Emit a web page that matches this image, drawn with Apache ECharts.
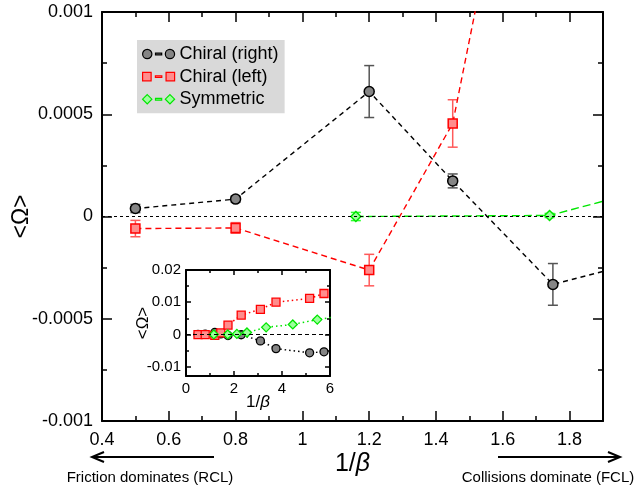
<!DOCTYPE html>
<html>
<head>
<meta charset="utf-8">
<script src="https://cdn.jsdelivr.net/npm/echarts@6/dist/echarts.min.js"></script>
<style>
  html, body { margin: 0; padding: 0; background: #fff; }
  #chart { width: 634px; height: 490px; }
</style>
</head>
<body>
<div id="chart"></div>
<script>
// data (main panel + inset share the same runs)
const invBetaRight = [0.5, 0.8, 1.2, 1.45, 1.75, 2.3, 3.1, 3.75, 5.15, 5.75];
const omegaRight   = [0.000039, 0.000085, 0.000611, 0.000174, -0.000332, -0.0001, -0.002, -0.0044, -0.0057, -0.0054];
const errRight     = [0.00002, 0.000015, 0.000127, 0.000034, 0.000102, 0.0001, 0.0002, 0.0002, 0.0002, 0.0002];

const invBetaLeft = [0.5, 0.8, 1.2, 1.45, 1.75, 2.3, 3.1, 3.75, 5.15, 5.75];
const omegaLeft   = [-0.000059, -0.000056, -0.000262, 0.000455, 0.0029, 0.006, 0.0078, 0.01, 0.0112, 0.0127];
const errLeft     = [0.00004, 0.000026, 0.000077, 0.000116, 0.0003, 0.0004, 0.0004, 0.0004, 0.0003, 0.0004];

const invBetaSym = [1.16, 1.74, 2.12, 2.54, 3.34, 4.45, 5.47, 6.5];
const omegaSym   = [0, 0.000005, 0.00017, 0.0006, 0.0022, 0.0031, 0.0046, 0.0058];
const errSym     = [0.00002, 0.00001, 0.00002, 0.0001, 0.0001, 0.0001, 0.0001, 0.0001];

const mainXTicks = [0.4, 0.6, 0.8, 1, 1.2, 1.4, 1.6, 1.8];
const mainXMinor = [0.5, 0.7, 0.9, 1.1, 1.3, 1.5, 1.7];
const mainYTicks = [-0.001, -0.0005, 0, 0.0005, 0.001];
const mainYMinor = [-0.00075, -0.00025, 0.00025, 0.00075];
const insetXTicks = [0, 2, 4, 6];
const insetXMinor = [1, 3, 5];
const insetYTicks = [-0.01, 0, 0.01, 0.02];
const insetYMinor = [-0.005, 0.005, 0.015];

const FONT = '"Liberation Sans", Arial, Helvetica, sans-serif';

const zip = (xs, ys) => xs.map((x, i) => [x, ys[i]]);

function mkAxis(gridIndex, position, min, max, ticks, tickLen, showLine, labelSize, labelMargin) {
  return {
    type: 'value', gridIndex, position, min, max,
    nameMoveOverlap: false,
    axisLine: { show: showLine, onZero: false, lineStyle: { color: '#000', width: 2 } },
    axisTick: { show: true, inside: true, length: tickLen, customValues: ticks,
                lineStyle: { color: '#000', width: 1.5 } },
    axisLabel: labelSize
      ? { show: true, customValues: ticks, fontSize: labelSize, color: '#000', fontFamily: FONT,
          margin: labelMargin, formatter: v => String(v) }
      : { show: false },
    splitLine: { show: false }
  };
}

const xAxes = [
  mkAxis(0, 'bottom', 0.4, 1.9, mainXTicks, 10, true, 18, 10),
  mkAxis(0, 'top', 0.4, 1.9, mainXTicks, 10, true),
  mkAxis(0, 'bottom', 0.4, 1.9, mainXMinor, 5, false),
  mkAxis(0, 'top', 0.4, 1.9, mainXMinor, 5, false),
  mkAxis(1, 'bottom', 0, 6, insetXTicks, 5, true, 15, 5),
  mkAxis(1, 'top', 0, 6, insetXTicks, 5, true),
  mkAxis(1, 'bottom', 0, 6, insetXMinor, 3, false),
  mkAxis(1, 'top', 0, 6, insetXMinor, 3, false)
];
const yAxes = [
  mkAxis(0, 'left', -0.001, 0.001, mainYTicks, 10, true, 18, 9),
  mkAxis(0, 'right', -0.001, 0.001, mainYTicks, 10, true),
  mkAxis(0, 'left', -0.001, 0.001, mainYMinor, 5, false),
  mkAxis(0, 'right', -0.001, 0.001, mainYMinor, 5, false),
  mkAxis(1, 'left', -0.0129, 0.02, insetYTicks, 5, true, 15, 5),
  mkAxis(1, 'right', -0.0129, 0.02, insetYTicks, 5, true),
  mkAxis(1, 'left', -0.0129, 0.02, insetYMinor, 3, false),
  mkAxis(1, 'right', -0.0129, 0.02, insetYMinor, 3, false)
];

// axis titles
Object.assign(xAxes[0], {
  name: '{n|1/}{b|β}', nameLocation: 'middle', nameGap: 31,
  nameTextStyle: { rich: { n: { fontSize: 25, fontFamily: FONT, color: '#000' },
                           b: { fontSize: 25, fontFamily: FONT, fontStyle: 'italic', color: '#000' } } }
});
Object.assign(yAxes[0], {
  name: '<Ω>', nameLocation: 'middle', nameGap: 69,
  nameTextStyle: { fontSize: 23, fontFamily: FONT, color: '#000' }
});
Object.assign(xAxes[4], {
  name: '{n|1/}{b|β}', nameLocation: 'middle', nameGap: 18,
  nameTextStyle: { rich: { n: { fontSize: 17, fontFamily: FONT, color: '#000' },
                           b: { fontSize: 17, fontFamily: FONT, fontStyle: 'italic', color: '#000' } } }
});
Object.assign(yAxes[4], {
  name: '<Ω>', nameLocation: 'middle', nameGap: 34,
  nameTextStyle: { fontSize: 17, fontFamily: FONT, color: '#000' }
});

const styles = {
  right: { fill: '#858585', stroke: '#000', line: '#000', err: '#555', dash: [5, 4] },
  left:  { fill: '#ff8c8c', stroke: '#ff0000', line: '#ff0000', err: '#ff5a5a', dash: [6, 4] },
  sym:   { fill: '#9dff9d', stroke: '#00e600', line: '#00e600', err: '#33ff33', dash: [8, 4] }
};

function mainLine(name, xs, ys, symbol, size, st) {
  return {
    type: 'line', name, xAxisIndex: 0, yAxisIndex: 0, clip: true, z: 4,
    data: zip(xs, ys), symbol, symbolSize: size, showSymbol: true,
    itemStyle: { color: st.fill, borderColor: st.stroke, borderWidth: 1.5 },
    lineStyle: { color: st.line, type: st.dash, width: 1.4 },
    emphasis: { disabled: true }
  };
}
function insetLine(name, xs, ys, symbol, size, st) {
  return {
    type: 'line', name, xAxisIndex: 4, yAxisIndex: 4, clip: true, z: 4,
    data: zip(xs, ys), symbol, symbolSize: size, showSymbol: true,
    itemStyle: { color: st.fill, borderColor: st.stroke, borderWidth: 1.3 },
    lineStyle: { color: st.line, type: [1.5, 3], width: 1.5 },
    emphasis: { disabled: true }
  };
}
function errorBars(xs, ys, es, color) {
  return {
    type: 'custom', xAxisIndex: 0, yAxisIndex: 0, clip: true, z: 3, silent: true,
    data: xs.map((x, i) => [x, ys[i] - es[i], ys[i] + es[i]]),
    encode: { x: 0, y: [1, 2] },
    renderItem: (params, api) => {
      const lo = api.coord([api.value(0), api.value(1)]);
      const hi = api.coord([api.value(0), api.value(2)]);
      const w = 5;
      const st = { stroke: color, lineWidth: 1.5 };
      return {
        type: 'group', children: [
          { type: 'line', shape: { x1: lo[0], y1: lo[1], x2: hi[0], y2: hi[1] }, style: st },
          { type: 'line', shape: { x1: lo[0] - w, y1: lo[1], x2: lo[0] + w, y2: lo[1] }, style: st },
          { type: 'line', shape: { x1: hi[0] - w, y1: hi[1], x2: hi[0] + w, y2: hi[1] }, style: st }
        ]
      };
    }
  };
}

const zeroMain = {
  type: 'line', xAxisIndex: 0, yAxisIndex: 0, data: [], z: 2,
  markLine: { silent: true, symbol: 'none', label: { show: false },
              lineStyle: { color: '#000', type: [3, 3], width: 1.2 }, data: [{ yAxis: 0 }] }
};
const zeroInset = {
  type: 'line', xAxisIndex: 4, yAxisIndex: 4, data: [], z: 2,
  markLine: { silent: true, symbol: 'none', label: { show: false },
              lineStyle: { color: '#000', type: [4, 3], width: 1.2 }, data: [{ yAxis: 0 }] }
};

// legend icons: marker - dash - marker
const iconCircle = 'path://M0.5,5a4.5,4.5 0 1,0 9,0a4.5,4.5 0 1,0 -9,0ZM13,4.2h6v1.6h-6ZM22.5,5a4.5,4.5 0 1,0 9,0a4.5,4.5 0 1,0 -9,0Z';
const iconSquare = 'path://M1,1h8v8h-8ZM13,4.2h6v1.6h-6ZM23,1h8v8h-8Z';
const iconDiamond = 'path://M5,0.5L9.5,5L5,9.5L0.5,5ZM13,4.2h6v1.6h-6ZM27,0.5L31.5,5L27,9.5L22.5,5Z';

const option = {
  animation: false,
  backgroundColor: '#fff',
  grid: [
    { left: 102, top: 12, right: 31, bottom: 69, outerBoundsMode: 'none' },
    { left: 186, top: 270, width: 144, height: 106, outerBoundsMode: 'none',
      show: true, backgroundColor: '#fff', borderWidth: 0 }
  ],
  xAxis: xAxes,
  yAxis: yAxes,
  legend: {
    orient: 'vertical', left: 137, top: 40,
    backgroundColor: '#d9d9d9', borderRadius: 0,
    padding: [5, 6, 5, 5], itemGap: 4.6, itemWidth: 32, itemHeight: 10,
    textStyle: { fontSize: 18, fontFamily: FONT, color: '#000', lineHeight: 18 },
    selectedMode: false,
    data: [
      { name: 'Chiral (right)', icon: iconCircle,
        itemStyle: { color: styles.right.fill, borderColor: '#000', borderWidth: 1.2 } },
      { name: 'Chiral (left)', icon: iconSquare,
        itemStyle: { color: styles.left.fill, borderColor: '#ff0000', borderWidth: 1.2 } },
      { name: 'Symmetric', icon: iconDiamond,
        itemStyle: { color: styles.sym.fill, borderColor: '#00e600', borderWidth: 1.2 } }
    ]
  },
  graphic: [
    { type: 'line', shape: { x1: 214, y1: 457, x2: 93, y2: 457 }, style: { stroke: '#000', lineWidth: 2 } },
    { type: 'polyline', shape: { points: [[104, 452], [92, 457], [104, 462]] },
      style: { stroke: '#000', lineWidth: 2, fill: null } },
    { type: 'line', shape: { x1: 498, y1: 457, x2: 619, y2: 457 }, style: { stroke: '#000', lineWidth: 2 } },
    { type: 'polyline', shape: { points: [[608, 452], [620, 457], [608, 462]] },
      style: { stroke: '#000', lineWidth: 2, fill: null } },
    { type: 'text', x: 150, y: 478,
      style: { text: 'Friction dominates (RCL)', fontSize: 15, fontFamily: FONT, fill: '#000',
               align: 'center', verticalAlign: 'middle' } },
    { type: 'text', x: 548, y: 478,
      style: { text: 'Collisions dominate (FCL)', fontSize: 15, fontFamily: FONT, fill: '#000',
               align: 'center', verticalAlign: 'middle' } }
  ],
  series: [
    zeroMain,
    zeroInset,
    errorBars(invBetaRight, omegaRight, errRight, styles.right.err),
    errorBars(invBetaLeft, omegaLeft, errLeft, styles.left.err),
    errorBars(invBetaSym, omegaSym, errSym, styles.sym.err),
    mainLine('Chiral (right)', invBetaRight, omegaRight, 'circle', 10, styles.right),
    mainLine('Chiral (left)', invBetaLeft, omegaLeft, 'rect', 9, styles.left),
    mainLine('Symmetric', invBetaSym, omegaSym, 'diamond', 10, styles.sym),
    insetLine('Chiral (right)', invBetaRight, omegaRight, 'circle', 8, styles.right),
    insetLine('Chiral (left)', invBetaLeft, omegaLeft, 'rect', 8, styles.left),
    insetLine('Symmetric', invBetaSym, omegaSym, 'diamond', 9, styles.sym)
  ]
};

const chart = echarts.init(document.getElementById('chart'), null, { renderer: 'canvas' });
chart.setOption(option);
</script>
</body>
</html>
